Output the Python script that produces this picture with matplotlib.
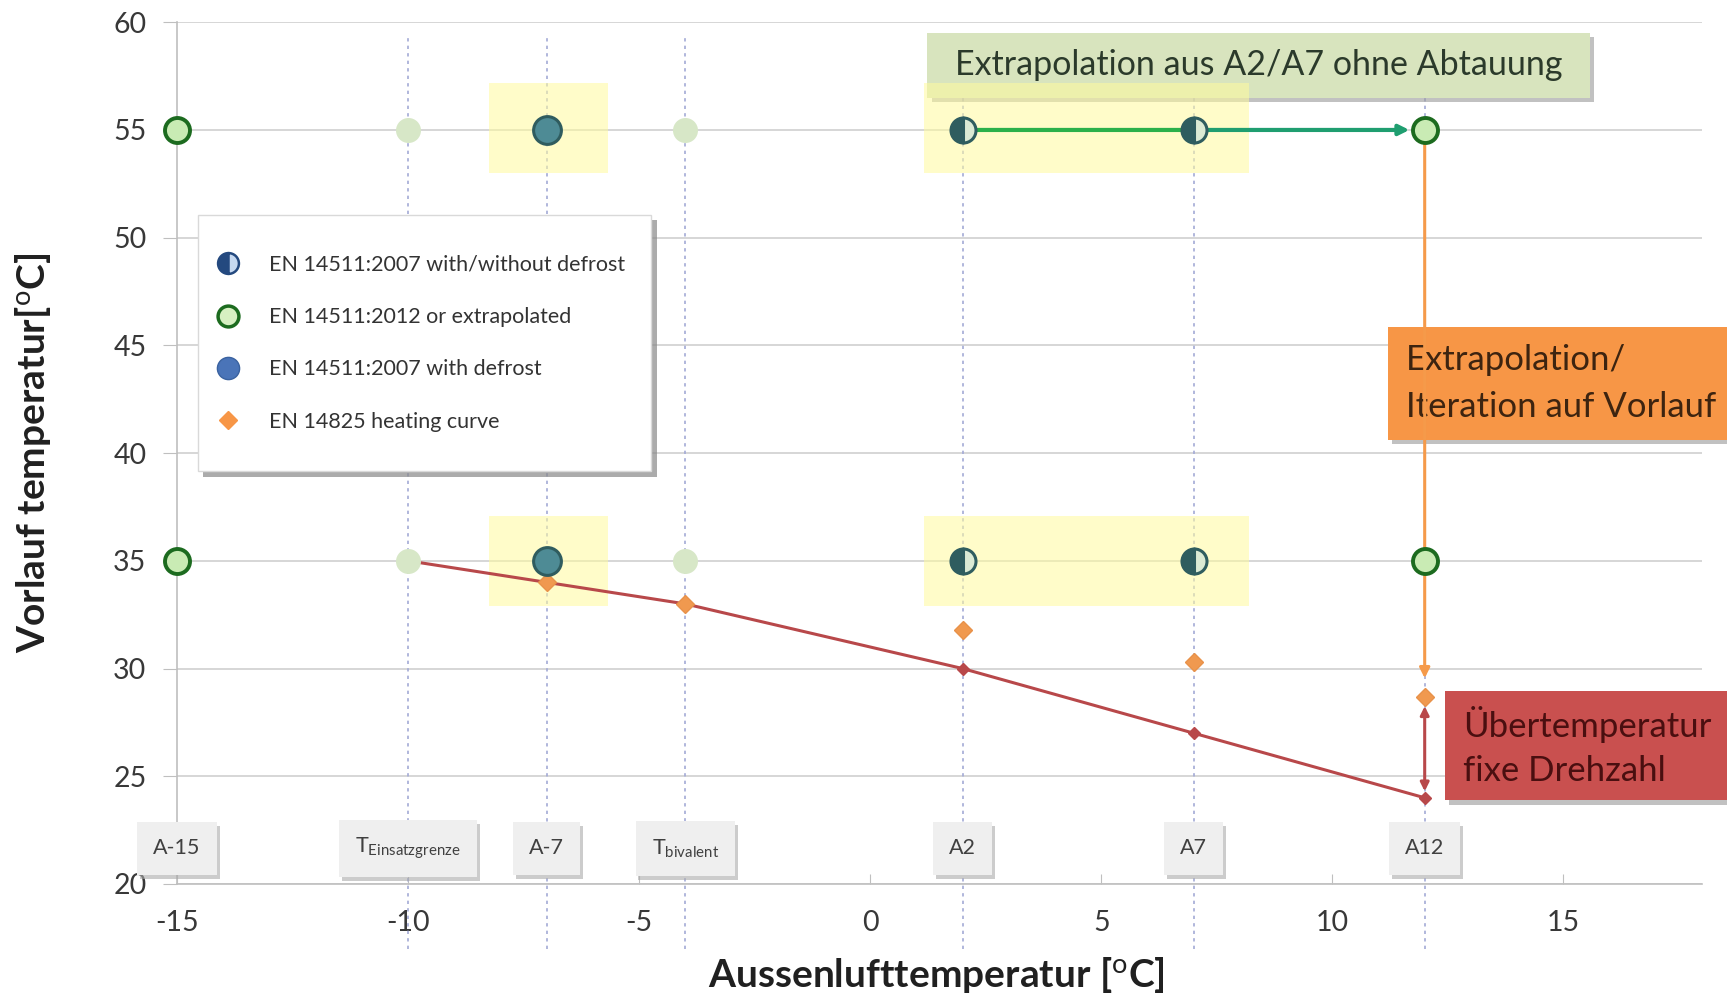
import matplotlib
matplotlib.use("Agg")
import matplotlib.pyplot as plt
from matplotlib.patches import Rectangle
from matplotlib.lines import Line2D
import matplotlib.patheffects as pe

plt.rcParams['font.family'] = ['Lato', 'DejaVu Sans']
plt.rcParams['mathtext.fontset'] = 'custom'
plt.rcParams['mathtext.rm'] = 'Lato'
plt.rcParams['mathtext.it'] = 'Lato:italic'
plt.rcParams['mathtext.bf'] = 'Lato:bold'
plt.rcParams['axes.unicode_minus'] = False

# ---------------- data ----------------
std_x = [-15, -15, 12, 12]          # EN 14511:2012 or extrapolated
std_y = [55, 35, 55, 35]
faded_x = [-10, -4, -10, -4]        # faded points
faded_y = [55, 55, 35, 35]
defrost_x = [-7, -7]                # EN 14511:2007 with defrost
defrost_y = [55, 35]
half_x = [2, 7, 2, 7]               # EN 14511:2007 with/without defrost
half_y = [55, 55, 35, 35]
curve_x = [-7, -4, 2, 7, 12]        # EN 14825 heating curve
curve_y = [34, 33, 31.8, 30.3, 28.7]
fixed_x = [-10, -7, -4, 2, 7, 12]   # fixed speed line
fixed_y = [35, 34, 33, 30, 27, 24]
vline_x = [-10, -7, -4, 2, 7, 12]
point_names = ['A-15', r'T$_{\mathrm{Einsatzgrenze}}$', 'A-7', r'T$_{\mathrm{bivalent}}$', 'A2', 'A7', 'A12']
point_name_x = [-15, -10, -7, -4, 2, 7, 12]
legend_labels = ['EN 14511:2007 with/without defrost', 'EN 14511:2012 or extrapolated',
                 'EN 14511:2007 with defrost', 'EN 14825 heating curve']
x_ticks = [-15, -10, -5, 0, 5, 10, 15]
y_ticks = [20, 25, 30, 35, 40, 45, 50, 55, 60]

fig = plt.figure(figsize=(17.27, 10.02), dpi=100)
ax = fig.add_axes([0.1025, 0.1178, 0.883, 0.860])
ax.set_xlim(-15, 18)
ax.set_ylim(20, 60)
ax.set_xticks(x_ticks)
ax.set_yticks(y_ticks)
ax.tick_params(axis='x', direction='in', length=7, color='#bfbfbf', labelsize=20.5, labelcolor='#383838', pad=19)
ax.tick_params(axis='y', direction='out', length=10, color='#bfbfbf', labelsize=20.5, labelcolor='#383838', pad=12)
for s in ['top', 'right']:
    ax.spines[s].set_visible(False)
for s in ['left', 'bottom']:
    ax.spines[s].set_color('#bfbfbf')
    ax.spines[s].set_linewidth(1.2)
ax.grid(axis='y', color='#d0d0d0', linewidth=1.2)
ax.set_axisbelow(True)

ax.set_xlabel(r'Aussenlufttemperatur [$^{\mathrm{o}}$C]', fontsize=28, fontweight='bold', color='#202020')
ax.set_ylabel(r'Vorlauf temperatur[$^{\mathrm{o}}$C]', fontsize=28, fontweight='bold', color='#202020')
ax.xaxis.set_label_coords(0.498, -0.082)
ax.yaxis.set_label_coords(-0.081, 0.5)

# vertical dotted lines
for xv in vline_x:
    ax.plot([xv, xv], [17.0, 59.3], ls=(0, (2, 2.5)), color='#a3aad6', lw=1.2, zorder=1, clip_on=False)

shadow = [pe.withSimplePatchShadow(offset=(3, -3), shadow_rgbFace='#999999', alpha=0.6)]

# top label box
ax.add_patch(Rectangle((1.24, 56.5), 14.33, 3.0, facecolor='#d8e4be', edgecolor='none', zorder=2,
                       path_effects=shadow))
ax.text(8.4, 58.0, 'Extrapolation aus A2/A7 ohne Abtauung', fontsize=24.5, color='#2b3a2b',
        ha='center', va='center', zorder=3)

# yellow highlights
for (x0, x1) in [(-8.24, -5.67), (1.17, 8.19)]:
    for (y0, y1) in [(53.0, 57.2), (32.9, 37.1)]:
        ax.add_patch(Rectangle((x0, y0), x1 - x0, y1 - y0, facecolor='#fffb9e', alpha=0.55,
                               edgecolor='none', zorder=3))

# orange box
ax.add_patch(Rectangle((11.21, 40.6), 7.4, 5.25, facecolor='#f79646', edgecolor='none', zorder=2,
                       clip_on=False, path_effects=shadow))
ax.text(11.6, 44.3, 'Extrapolation/', fontsize=25, color='#3d2410', ha='left', va='center', zorder=3, clip_on=False)
ax.text(11.6, 42.15, 'Iteration auf Vorlauf', fontsize=25, color='#3d2410', ha='left', va='center', zorder=3, clip_on=False)

# red box
ax.add_patch(Rectangle((12.43, 23.88), 6.2, 5.06, facecolor='#c9504f', edgecolor='none', zorder=2,
                       clip_on=False, path_effects=shadow))
ax.text(12.83, 27.4, 'Übertemperatur', fontsize=25, color='#4a0f10', ha='left', va='center', zorder=3, clip_on=False)
ax.text(12.83, 25.25, 'fixe Drehzahl', fontsize=25, color='#4a0f10', ha='left', va='center', zorder=3, clip_on=False)

# green arrow A2 -> A7 -> A12
ax.annotate('', xy=(half_x[1], half_y[1]), xytext=(half_x[0], half_y[0]),
            arrowprops=dict(arrowstyle='-', color='#2bb04a', lw=3, shrinkA=8, shrinkB=8), zorder=4)
ax.annotate('', xy=(std_x[2], std_y[2]), xytext=(half_x[1], half_y[1]),
            arrowprops=dict(arrowstyle='-|>,head_length=0.6,head_width=0.3', color='#1f9e70', lw=3,
                            shrinkA=8, shrinkB=11), zorder=4)

# orange vertical arrow
ax.annotate('', xy=(12, 29.55), xytext=(std_x[2], std_y[2]),
            arrowprops=dict(arrowstyle='-|>,head_length=0.6,head_width=0.3', color='#f59a4a', lw=2.2,
                            shrinkA=0, shrinkB=0), zorder=4)

# fixed speed red line
ax.plot(fixed_x, fixed_y, color='#b8484a', lw=2.2, zorder=5)
ax.plot(fixed_x[3:], fixed_y[3:], ls='none', marker='D', ms=6, color='#b8484a', zorder=6)

# red double arrow
ax.annotate('', xy=(12, 24.3), xytext=(12, 28.25),
            arrowprops=dict(arrowstyle='<|-|>,head_length=0.5,head_width=0.25', color='#b8484a', lw=2.2,
                            shrinkA=0, shrinkB=0), zorder=6)

# heating curve
ax.plot(curve_x, curve_y, ls='none', marker='D', ms=9, color='#f0994f', markeredgecolor='#e8924a', zorder=7)

# markers
ax.plot(faded_x, faded_y, ls='none', marker='o', ms=18, color='#d7e7c7', markeredgewidth=0, zorder=7)
ax.plot(defrost_x, defrost_y, ls='none', marker='o', ms=20, markerfacecolor='#4e8b95',
        markeredgecolor='#2f5c5f', markeredgewidth=2.2, zorder=7)
ax.plot(half_x, half_y, ls='none', marker='o', ms=18, fillstyle='left', markerfacecolor='#2f5d5f',
        markerfacecoloralt='#dbead4', markeredgecolor='#2f5d5f', markeredgewidth=2.2, zorder=7)
ax.plot(std_x, std_y, ls='none', marker='o', ms=18, markerfacecolor='#c9ebb4',
        markeredgecolor='#1c6b1f', markeredgewidth=2.8, zorder=8, clip_on=False)

# point name boxes
for xn, name in zip(point_name_x, point_names):
    t = ax.text(xn, 21.65, name, fontsize=15.5, color='#404040', ha='center', va='center', zorder=9,
                bbox=dict(boxstyle='square,pad=0.75', facecolor='#efefef', edgecolor='none'))
    t.get_bbox_patch().set_path_effects([pe.withSimplePatchShadow(offset=(2, -3), shadow_rgbFace='#aaaaaa', alpha=0.6)])

# legend frame
ax.add_patch(Rectangle((-14.55, 39.16), 9.81, 11.9, facecolor='white', edgecolor='#d9d9d9', lw=1,
                       zorder=10, path_effects=[pe.withSimplePatchShadow(offset=(4, -4), shadow_rgbFace='#888888', alpha=0.7)]))
handles = [
    Line2D([], [], ls='none', marker='o', ms=15, fillstyle='left', markerfacecolor='#24497f',
           markerfacecoloralt='#c6d9f1', markeredgecolor='#24497f', markeredgewidth=1.8),
    Line2D([], [], ls='none', marker='o', ms=15, markerfacecolor='#d7f0c2', markeredgecolor='#1c6b1f',
           markeredgewidth=2.5),
    Line2D([], [], ls='none', marker='o', ms=16, markerfacecolor='#4a74b8', markeredgecolor='#3a62a0',
           markeredgewidth=1),
    Line2D([], [], ls='none', marker='D', ms=9, color='#f79646'),
]
leg = ax.legend(handles, legend_labels, loc='center left', bbox_to_anchor=(-14.26, 45.1),
                bbox_transform=ax.transData, fontsize=15.5, frameon=False,
                borderpad=0, labelspacing=1.5, handletextpad=1.1, borderaxespad=0, handlelength=1.6)
for txt in leg.get_texts():
    txt.set_color('#333333')
leg.set_zorder(11)

fig.savefig('out.png', dpi=100)
